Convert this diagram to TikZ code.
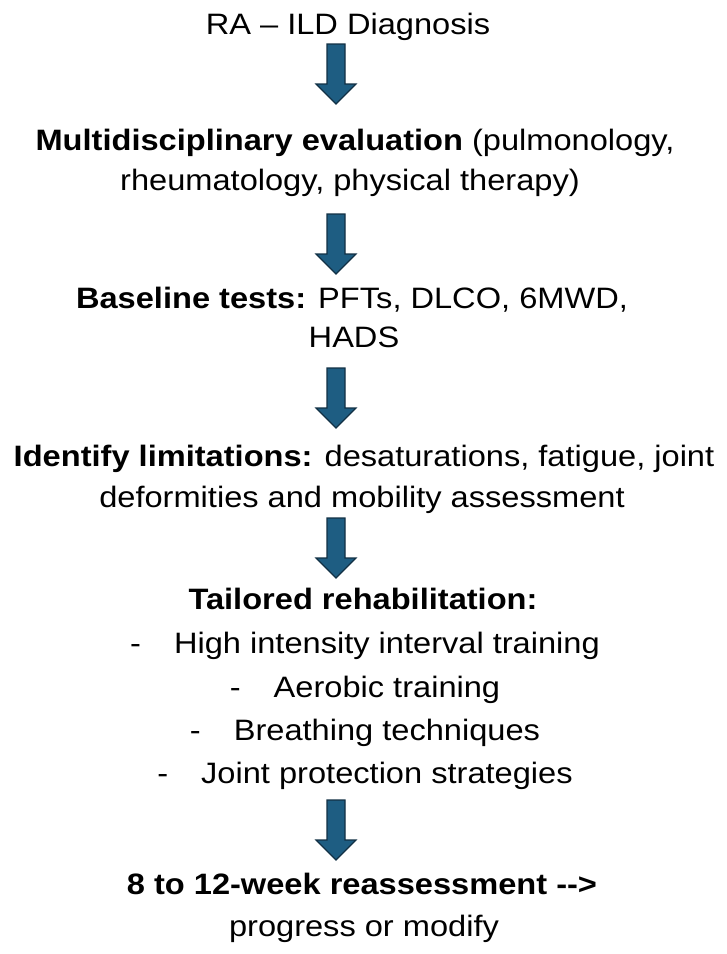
\documentclass[tikz,border=0pt]{standalone}
\usepackage{fontspec}
\setmainfont{Liberation Sans}[FakeStretch=1.105]
\begin{document}
\begin{tikzpicture}[x=1pt,y=-1pt,
  txt/.style={anchor=base,inner sep=0pt,font=\fontsize{29.5pt}{34pt}\selectfont,text=black},
  arrfill/.style={fill={rgb,255:red,30;green,93;blue,130},draw={rgb,255:red,18;green,48;blue,68},line width=1.2pt,line join=miter},
  downarrow/.pic={\path[arrfill] (-9,0) -- (9,0) -- (9,40) -- (20,40) -- (0,60) -- (-20,40) -- (-9,40) -- cycle;}
]
\useasboundingbox[fill=white] (0,0) rectangle (727,954);

\node[txt] (t1) at (348,34) {RA – ILD Diagnosis};
\pic at (336,44) {downarrow};

\node[txt] (t2a) at (355,150) {\textbf{Multidisciplinary evaluation} (pulmonology,};
\node[txt] (t2b) at (350,190) {rheumatology, physical therapy)};
\pic at (336,214) {downarrow};

\node[txt] (t3a) at (352,308) {\textbf{Baseline tests:} PFTs, DLCO, 6MWD,};
\node[txt] (t3b) at (354,347) {HADS};
\pic at (336,368) {downarrow};

\node[txt] (t4a) at (364,466) {\textbf{Identify limitations:} desaturations, fatigue, joint};
\node[txt] (t4b) at (362,507) {deformities and mobility assessment};
\pic at (336,518) {downarrow};

\node[txt] (t5) at (363,609) {\textbf{Tailored rehabilitation:}};
\node[txt] (l1) at (365,653) {-\hspace{33pt}High intensity interval training};
\node[txt] (l2) at (365,697) {-\hspace{33pt}Aerobic training};
\node[txt] (l3) at (365,740) {-\hspace{33pt}Breathing techniques};
\node[txt] (l4) at (365,783) {-\hspace{33pt}Joint protection strategies};
\pic at (336,800) {downarrow};

\node[txt] (t6a) at (362,894) {\textbf{8 to 12-week reassessment -{}-{}>}};
\node[txt] (t6b) at (364,936) {progress or modify};
\end{tikzpicture}
\end{document}
